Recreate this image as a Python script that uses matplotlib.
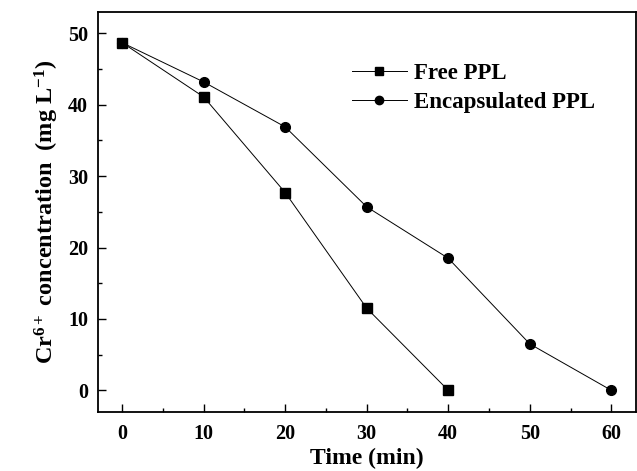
import matplotlib
matplotlib.use("Agg")
import matplotlib.pyplot as plt
from matplotlib.ticker import MultipleLocator

plt.rcParams['font.family'] = ['Liberation Serif', 'DejaVu Serif']
plt.rcParams['font.weight'] = 'bold'
plt.rcParams['mathtext.fontset'] = 'custom'
plt.rcParams['mathtext.rm'] = 'Liberation Serif:bold'
plt.rcParams['mathtext.bf'] = 'Liberation Serif:bold'
plt.rcParams['mathtext.it'] = 'Liberation Serif:bold'

time_free = [0, 10, 20, 30, 40]
free_ppl = [48.7, 41.1, 27.7, 11.5, 0.0]
time_enc = [0, 10, 20, 30, 40, 50, 60]
enc_ppl = [48.7, 43.2, 36.9, 25.7, 18.5, 6.5, 0.0]

fig = plt.figure(figsize=(6.37, 4.71), dpi=100)
ax = fig.add_axes([0.1534, 0.1259, 0.998 - 0.1534, 0.9745 - 0.1259])

ax.plot(time_free, free_ppl, color='black', lw=0.7, marker='s', ms=6.5, label='Free PPL')
ax.plot(time_enc, enc_ppl, color='black', lw=0.7, marker='o', ms=7, label='Encapsulated PPL')

ax.set_xlim(-3, 63)
ax.set_ylim(-3, 53)
ax.xaxis.set_major_locator(MultipleLocator(10))
ax.xaxis.set_minor_locator(MultipleLocator(5))
ax.yaxis.set_major_locator(MultipleLocator(10))
ax.yaxis.set_minor_locator(MultipleLocator(5))
ax.tick_params(which='both', direction='in', width=1, labelsize=14.5)
ax.tick_params(which='major', length=6)
ax.tick_params(which='minor', length=3)
ax.tick_params(axis='x', pad=9)
ax.tick_params(axis='y', pad=7)
for s in ax.spines.values():
    s.set_linewidth(1.3)
for lab in ax.get_xticklabels() + ax.get_yticklabels():
    lab.set_fontweight('bold')

ax.set_xlabel('Time (min)', fontsize=17, fontweight='bold', labelpad=3)
ax.set_ylabel(r'Cr$^{6+}$ concentration  (mg L$^{-1}$)', fontsize=17.5, fontweight='bold', labelpad=5)

leg = ax.legend(loc='upper left', bbox_to_anchor=(0.455, 0.895), frameon=False,
                handlelength=2.4, handletextpad=0.3, labelspacing=0.34, borderaxespad=0,
                prop={'weight': 'bold', 'size': 16.5})
for h in leg.legend_handles:
    h.set_markersize(6)

fig.savefig('out.png', dpi=100)
